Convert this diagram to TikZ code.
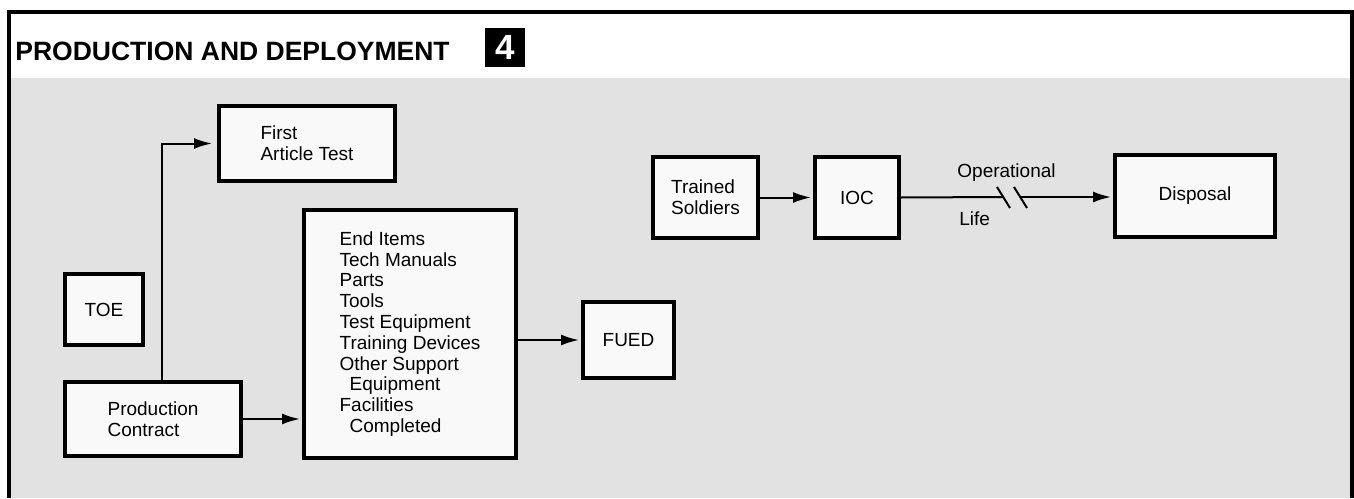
\documentclass[tikz,border=0pt]{standalone}
\usepackage{fontspec}
\setmainfont{Liberation Sans}
\usetikzlibrary{arrows.meta}
\definecolor{scangray}{gray}{0.885}
\definecolor{paper}{gray}{0.975}
\tikzset{
	stage/.style={draw=black, line width=2pt, fill=paper, align=left, inner sep=0pt, font=\fontsize{9.5}{10.4}\selectfont},
	link/.style={line width=1pt, -{Latex[length=9pt,width=5.5pt]}, shorten >=1pt},
	tag/.style={font=\fontsize{9.5}{10.4}\selectfont, inner sep=0pt}
}

\begin{document}
\begin{tikzpicture}[x=0.5pt,y=-0.5pt]
				\useasboundingbox (0,0) rectangle (1354,498);
				\fill[white] (0,0) rectangle (1354,498);
				\fill[scangray] (11,78) rectangle (1350,498);
				\draw[line width=2pt] (9,498) -- (9,12) -- (1352,12) -- (1352,498);
				
				\node[anchor=base west, inner sep=0pt, font=\fontsize{13.25}{15}\selectfont\bfseries] (title) at (15,61) {PRODUCTION AND DEPLOYMENT};
				\node[fill=black, text=white, minimum width=20pt, minimum height=19.5pt, inner sep=0pt, font=\fontsize{17.5}{18}\selectfont\bfseries] (num) at (505,47.5) {4};
				
				\node[stage, minimum width=88pt, minimum height=37.5pt] (fat) at (307,143.5) {First\\Article Test};
				\node[stage, minimum width=39pt, minimum height=35.5pt] (toe) at (104,309.5) {TOE};
				\node[stage, minimum width=88pt, minimum height=37pt] (pc) at (153,419) {Production\\Contract};
				\node[stage, minimum width=106pt, minimum height=124pt] (items) at (410,334) {End Items\\Tech Manuals\\Parts\\Tools\\Test Equipment\\Training Devices\\Other Support\\\hspace*{5pt}Equipment\\Facilities\\\hspace*{5pt}Completed};
				\node[stage, minimum width=45.5pt, minimum height=38pt] (fued) at (628.5,340) {FUED};
				
				\node[stage, minimum width=52.5pt, minimum height=40.5pt] (ts) at (705.5,197.5) {Trained\\Soldiers};
				\node[stage, minimum width=42pt, minimum height=40.5pt] (ioc) at (857,197.5) {IOC};
				\node[stage, minimum width=80pt, minimum height=41pt] (disposal) at (1195,196) {Disposal};
				
				\draw[link, shorten >=2.5pt] ([xshift=4.5pt]pc.north) |- (fat.west);
				\draw[link] (pc.east) -- (pc.east -| items.west);
				\draw[link] (items.east |- fued.west) -- (fued.west);
				\draw[link] (ts) -- (ioc);
				
				\coordinate (cutL) at (1003,197);
				\coordinate (cutR) at (1020,197);
				\draw[line width=1pt] (ioc.east) -- (cutL);
				\draw[line width=1pt] ([shift={(-6,-10)}]cutL) -- ([shift={(7,11)}]cutL);
				\draw[line width=1pt] ([shift={(-6,-10)}]cutR) -- ([shift={(7,11)}]cutR);
				\draw[link] (cutR) -- (cutR -| disposal.west);
				\node[tag, anchor=west] (oplabel) at (957,173) {Operational};
				\node[tag, anchor=west] (lifelabel) at (959,219) {Life};
			\end{tikzpicture}
\end{document}
